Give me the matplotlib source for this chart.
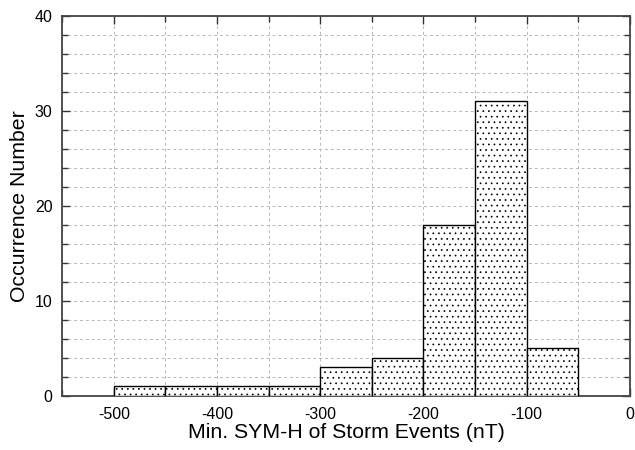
import numpy as np
import matplotlib.pyplot as plt

plt.rcParams['font.family'] = ['Liberation Sans', 'DejaVu Sans']
plt.rcParams['axes.unicode_minus'] = False
plt.rcParams['hatch.color'] = '#444444'
plt.rcParams['hatch.linewidth'] = 0.5

bin_edges = [-500, -450, -400, -350, -300, -250, -200, -150, -100, -50]
counts = [1, 1, 1, 1, 3, 4, 18, 31, 5]

fig = plt.figure(figsize=(6.35, 4.5), dpi=100)
ax = fig.add_axes([0.098, 0.12, 0.894, 0.845])

left = np.array(bin_edges[:-1])
widths = np.diff(bin_edges)
ax.bar(left, counts, width=widths, align='edge', color='white',
       edgecolor='black', linewidth=1.0, hatch='...', zorder=3)

ax.set_xlim(-550, 0)
ax.set_ylim(0, 40)
ax.set_xticks(np.arange(-500, 1, 100))
ax.set_xticks(np.arange(-550, 1, 50), minor=True)
ax.set_yticks(np.arange(0, 41, 10))
ax.set_yticks(np.arange(0, 41, 2), minor=True)

ax.grid(which='both', color='#b8b8b8', linestyle=(0, (3, 3)), linewidth=0.7, zorder=0)
ax.set_axisbelow(True)

ax.tick_params(which='both', direction='in', top=True, right=True,
               labelsize=11.5, color='#333333')
ax.tick_params(axis='x', which='both', pad=8)
ax.tick_params(axis='y', which='both', pad=7)
ax.tick_params(which='major', length=6, width=1.0)
ax.tick_params(which='minor', length=4, width=1.0)
for s in ax.spines.values():
    s.set_linewidth(1.3)
    s.set_color('#444444')

ax.set_xlabel('Min. SYM-H of Storm Events (nT)', fontsize=15.3, labelpad=1)
ax.set_ylabel('Occurrence Number', fontsize=15.3, labelpad=4)

fig.savefig('out.png', dpi=100)
